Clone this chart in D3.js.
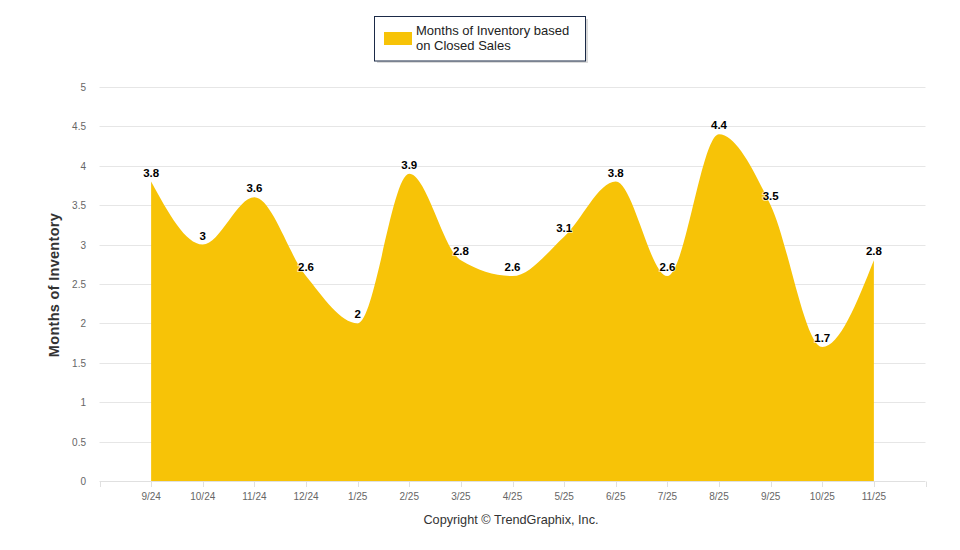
<!DOCTYPE html>
<html><head><meta charset="utf-8">
<script src="https://cdn.jsdelivr.net/npm/d3@7"></script>
<style>body{margin:0;background:#fff}svg{display:block}</style>
</head><body>
<svg id="c" width="960" height="550"></svg>
<script>
const categories = ["9/24","10/24","11/24","12/24","1/25","2/25","3/25","4/25","5/25","6/25","7/25","8/25","9/25","10/25","11/25"];
const values = [3.8,3,3.6,2.6,2,3.9,2.8,2.6,3.1,3.8,2.6,4.4,3.5,1.7,2.8];
const yTicks = [0,0.5,1,1.5,2,2.5,3,3.5,4,4.5,5];
const seriesName = ["Months of Inventory based","on Closed Sales"];
const yTitle = "Months of Inventory";
const credit = "Copyright \u00A9 TrendGraphix, Inc.";

const svg = d3.select("#c");
const font = "'Liberation Sans', Arial, sans-serif";
const x = d3.scaleLinear().domain([-1, categories.length]).range([99.5, 925.5]);
const y = d3.scaleLinear().domain([0,5]).range([481, 87]);

// gridlines
svg.append("g").selectAll("line").data(yTicks.filter(d=>d>0)).join("line")
  .attr("x1",99.5).attr("x2",925.5).attr("y1",d=>Math.round(y(d))+0.5).attr("y2",d=>Math.round(y(d))+0.5)
  .attr("stroke","#e6e6e6").attr("stroke-width",1);

// y labels
svg.append("g").selectAll("text").data(yTicks).join("text")
  .attr("x",86).attr("y",d=>y(d)+4).attr("text-anchor","end")
  .attr("font-family",font).attr("font-size",10).attr("fill","#666").text(d=>d);

// area
const idx = values.map((v,i)=>i);
const area = d3.area().x(i=>x(i)).y0(y(0)).y1(i=>y(values[i])).curve(d3.curveMonotoneX);
svg.append("path").attr("d",area(idx)).attr("fill","#F7C307");

// x axis
const xa = svg.append("g");
xa.append("line").attr("x1",99.5).attr("x2",925.5).attr("y1",481.5).attr("y2",481.5).attr("stroke","#e0e0e0");
const tickPos = [-1, ...idx, categories.length];
xa.selectAll("line.t").data(tickPos).join("line").attr("class","t")
  .attr("x1",d=>Math.round(x(d))+0.5).attr("x2",d=>Math.round(x(d))+0.5).attr("y1",481.5).attr("y2",487)
  .attr("stroke","#e0e0e0");
xa.selectAll("text").data(idx).join("text")
  .attr("x",i=>x(i)).attr("y",500).attr("text-anchor","middle")
  .attr("font-family",font).attr("font-size",10).attr("fill","#666").text(i=>categories[i]);

// data labels
svg.append("g").selectAll("text").data(idx).join("text")
  .attr("x",i=>x(i)).attr("y",i=>y(values[i])-5).attr("text-anchor","middle")
  .attr("font-family",font).attr("font-size",11.5).attr("font-weight","bold")
  .attr("fill","#000").attr("stroke","#fff").attr("stroke-width",2).attr("stroke-opacity",0.6)
  .attr("paint-order","stroke").text(i=>values[i]);

// y title
svg.append("text").attr("transform","translate(59,285) rotate(-90)").attr("text-anchor","middle")
  .attr("font-family",font).attr("font-size",14.5).attr("font-weight","bold").attr("fill","#333")
  .attr("letter-spacing",0.3).text(yTitle);

// legend
const lg = svg.append("g");
lg.append("rect").attr("x",377).attr("y",19).attr("width",211).attr("height",44).attr("fill","#999").attr("opacity",0.35);
lg.append("rect").attr("x",374.5).attr("y",16.5).attr("width",211).attr("height",44.5).attr("fill","#fff").attr("stroke","#1b2a47").attr("stroke-width",1);
lg.append("rect").attr("x",384).attr("y",32).attr("width",28).attr("height",13).attr("fill","#F7C307");
lg.selectAll("text").data(seriesName).join("text")
  .attr("x",416).attr("y",(d,i)=>34.5+i*15).attr("font-family",font).attr("font-size",13).attr("fill","#222").text(d=>d);

// credit
svg.append("text").attr("x",511).attr("y",524).attr("text-anchor","middle")
  .attr("font-family",font).attr("font-size",12.7).attr("fill","#333").text(credit);
</script>
</body></html>
